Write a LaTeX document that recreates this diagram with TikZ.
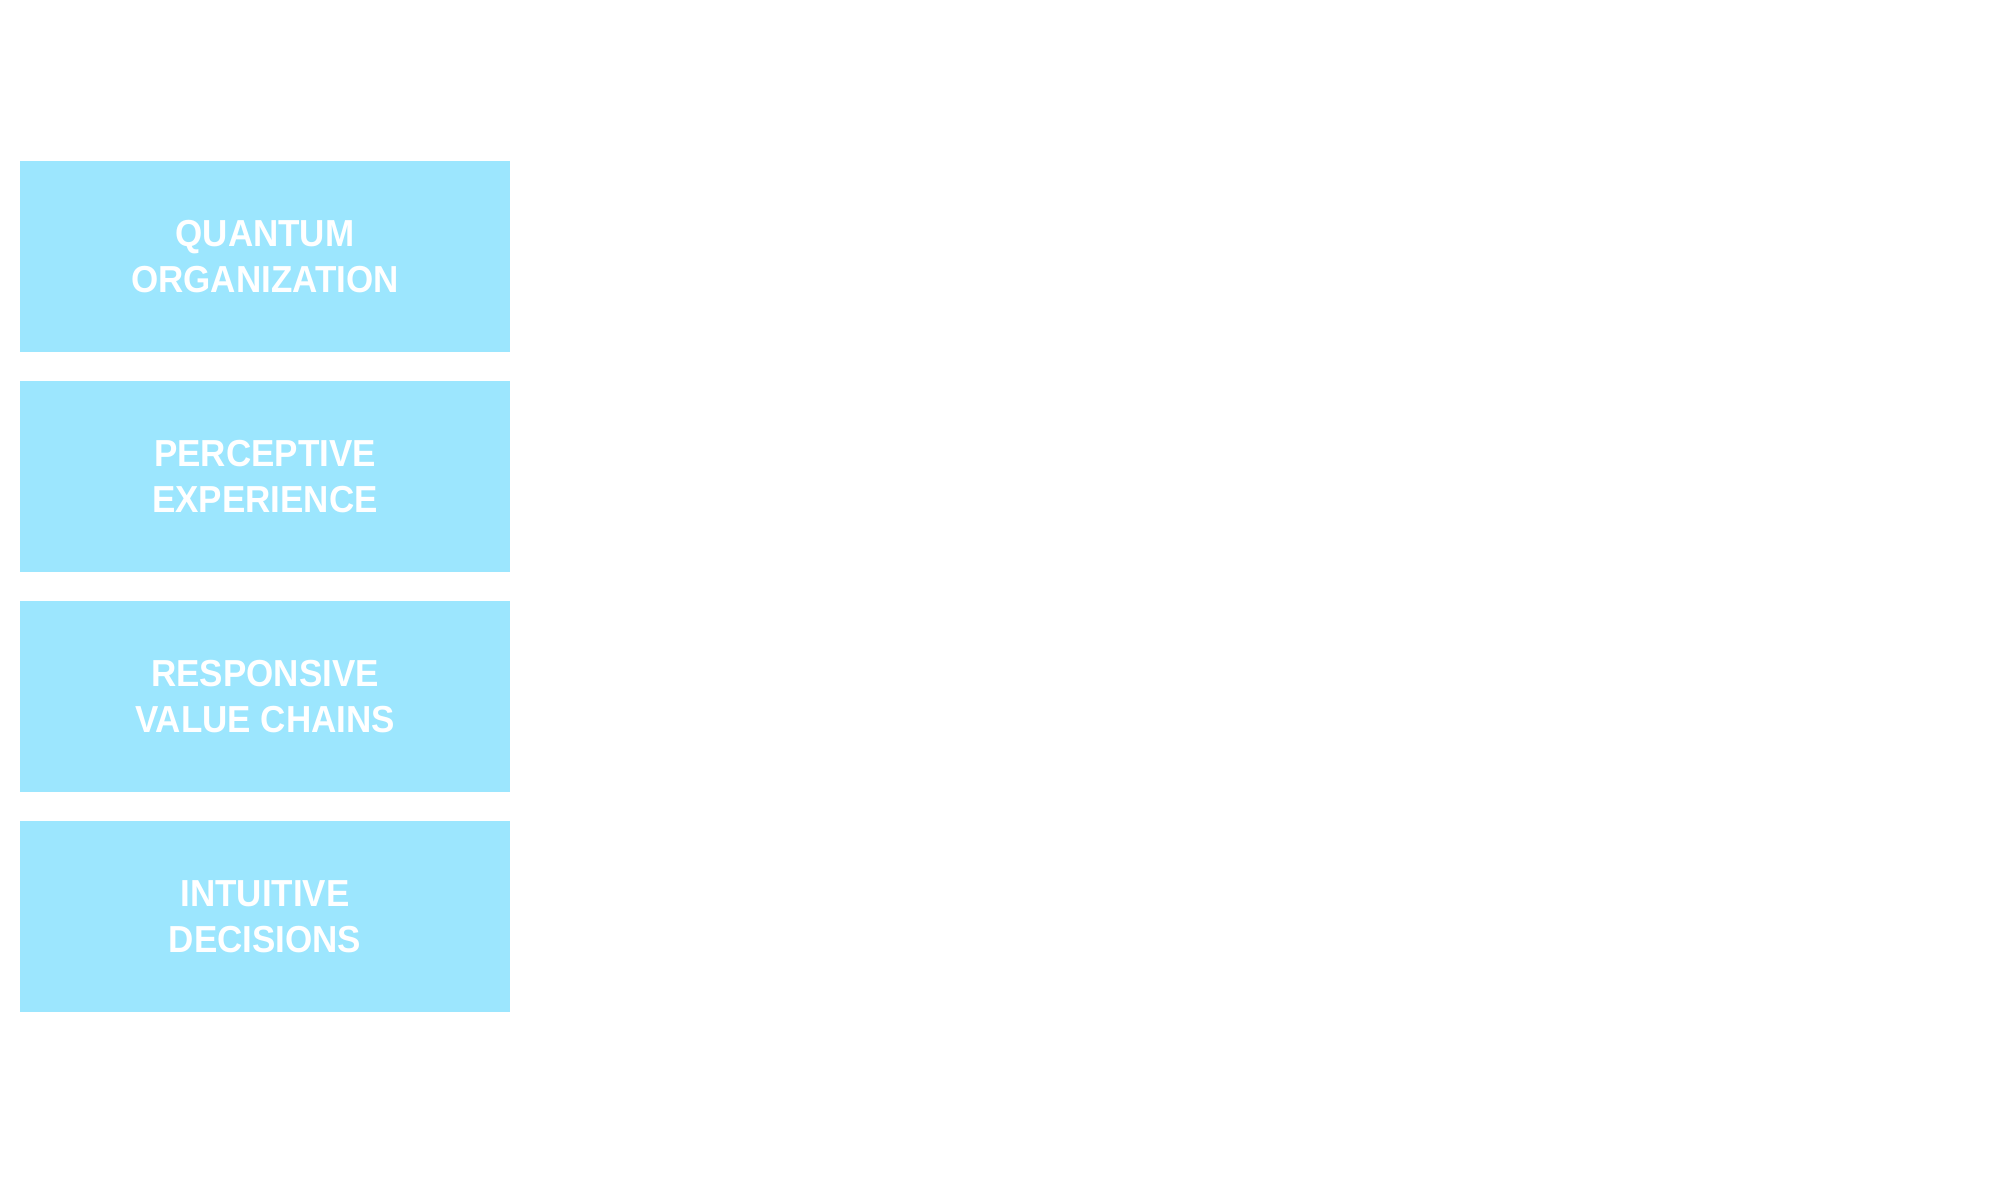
\documentclass[tikz,border=0pt]{standalone}
\usepackage{fontspec}
\setmainfont[FakeStretch=0.93]{Liberation Sans}
\usepackage{tikz}
\usetikzlibrary{positioning}
\definecolor{tileblue}{RGB}{156,230,254}
\newcommand{\tilebox}[3]{\node [tile] (#1) at (#2) {#3}}

\begin{document}
\begin{tikzpicture}[x=0.01cm,y=-0.01cm,
  tile/.style={fill=tileblue, text=white, inner sep=0pt, align=center,
    minimum width=4.9cm, minimum height=1.91cm,
    font=\fontsize{10.7}{13.1}\selectfont\bfseries}]

\useasboundingbox (0,0) rectangle (2000,1177);

\tilebox{QO}{265,256.5}{QUANTUM\\ORGANIZATION};
\tilebox{PE}{265,476.5}{PERCEPTIVE\\EXPERIENCE};
\tilebox{RV}{265,696.5}{RESPONSIVE\\VALUE CHAINS};
\tilebox{ID}{265,916.5}{INTUITIVE\\DECISIONS};

\end{tikzpicture}
\end{document}
